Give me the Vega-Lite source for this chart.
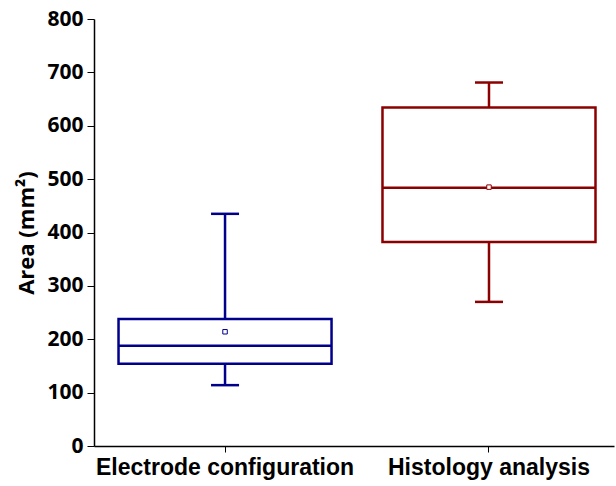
{
  "$schema": "https://vega.github.io/schema/vega-lite/v6.json",
  "width": 520,
  "height": 427,
  "autosize": {"type": "none"},
  "padding": {"left": 94, "top": 19, "right": 2, "bottom": 40},
  "background": "white",
  "config": {"view": {"stroke": null}},
  "data": {"values": [
    {"group": "Electrode configuration", "min": 114, "q1": 154, "median": 188, "q3": 238, "max": 435, "mean": 214},
    {"group": "Histology analysis", "min": 270, "q1": 382, "median": 484, "q3": 634, "max": 681, "mean": 485}
  ]},
  "encoding": {
    "x": {
      "field": "group", "type": "nominal", "sort": null,
      "scale": {"paddingInner": 0.193, "paddingOuter": 0.0815, "align": 0.57},
      "axis": {"title": null, "labelAngle": 0, "labelLimit": 0, "labelFont": "Liberation Sans", "labelFontWeight": "bold", "labelFontSize": 23, "labelColor": "black", "domainColor": "black", "domainWidth": 1.5, "tickColor": "black", "tickSize": 6, "labelPadding": 4}
    },
    "color": {
      "field": "group", "type": "nominal", "legend": null,
      "scale": {"range": ["#00008B", "#8B0000"]}
    }
  },
  "layer": [
    {
      "mark": {"type": "rule", "strokeWidth": 2.5},
      "encoding": {
        "y": {"field": "min", "type": "quantitative",
          "scale": {"domain": [0, 800]},
          "axis": {"title": "Area (mm²)", "titleFont": "Open Sans", "titleFontSize": 22, "titleFontWeight": "bold", "titleColor": "black", "titlePadding": 8,
            "values": [0, 100, 200, 300, 400, 500, 600, 700, 800], "grid": false,
            "labelFont": "Open Sans", "labelFontSize": 21, "labelFontWeight": "bold", "labelColor": "black",
            "domainColor": "black", "domainWidth": 1.5, "tickColor": "black", "tickSize": 7, "labelPadding": 4}},
        "y2": {"field": "max"},
        "stroke": {"field": "group", "type": "nominal", "legend": null, "scale": {"range": ["#00008B", "#8B0000"]}}
      }
    },
    {
      "mark": {"type": "bar", "fill": "white", "strokeWidth": 2.5},
      "encoding": {
        "y": {"field": "q1", "type": "quantitative"},
        "y2": {"field": "q3"},
        "stroke": {"field": "group", "type": "nominal", "legend": null}
      }
    },
    {
      "mark": {"type": "tick", "size": 213, "thickness": 2.5, "orient": "horizontal", "opacity": 1},
      "encoding": {"y": {"field": "median", "type": "quantitative"}}
    },
    {
      "mark": {"type": "tick", "size": 28, "thickness": 2.5, "orient": "horizontal", "opacity": 1},
      "encoding": {"y": {"field": "min", "type": "quantitative"}}
    },
    {
      "mark": {"type": "tick", "size": 28, "thickness": 2.5, "orient": "horizontal", "opacity": 1},
      "encoding": {"y": {"field": "max", "type": "quantitative"}}
    },
    {
      "mark": {"type": "point", "shape": "square", "size": 20, "filled": false, "fill": "white", "strokeWidth": 1, "opacity": 1},
      "encoding": {
        "y": {"field": "mean", "type": "quantitative"},
        "stroke": {"field": "group", "type": "nominal", "legend": null}
      }
    }
  ]
}
